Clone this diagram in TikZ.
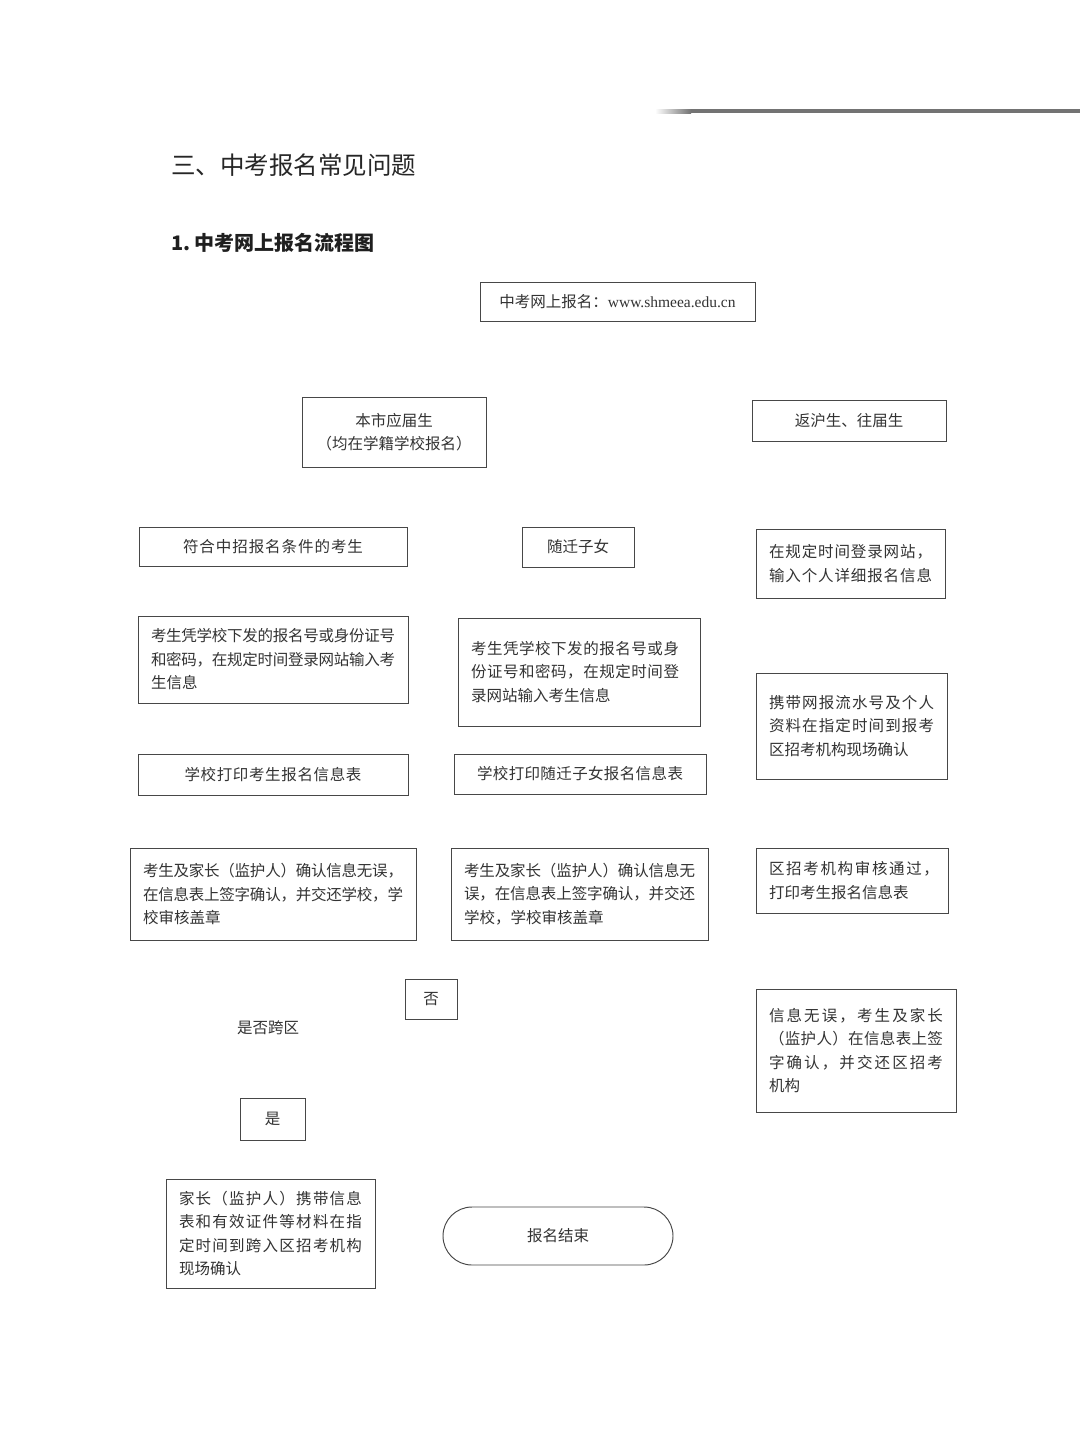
\documentclass[tikz,border=0pt]{standalone}
\usepackage{fontspec}
\setmainfont{Noto Sans CJK SC}
\newfontfamily\urlfont{Liberation Serif}
\def\jg{\hskip 0pt plus 1fil minus 2pt\relax}
\def\jloop#1{\ifx#1\relax\else#1\jg\expandafter\jloop\fi}
\newcommand\jl[2]{\makebox[#1][s]{\jloop#2\relax\unskip}}
\begin{document}
\begin{tikzpicture}[x=1pt,y=-1pt,
  box/.style={draw=black!72, line width=0.95pt, rectangle, inner sep=0pt,
    text=black!80, font=\fontsize{15.5}{23.5}\selectfont, align=center},
  para/.style={box, inner xsep=13pt, align=left, text width=#1},
  plain/.style={inner sep=0pt, text=black!80, font=\fontsize{15.5}{23.5}\selectfont}]
\fill[white] (0,0) rectangle (1080,1440);
\useasboundingbox (0,0) rectangle (1080,1440);
% header rule
\fill[black!55] (690,109) rectangle (1080,113);
\shade[left color=white, right color=black!55] (655,109) rectangle (691,113);
% titles
\node[anchor=west, inner sep=0pt, text=black!85, font=\fontsize{24.5}{28}\selectfont] (h1) at (171,165) {三、中考报名常见问题};
\node[anchor=west, inner sep=0pt, text=black!88, font=\bfseries\fontsize{20}{24}\selectfont] (h2) at (171,243) {1.~中考网上报名流程图};
% boxes
\node[box, minimum width=275pt, minimum height=39pt] (url) at (617.5,301.5) {中考网上报名：{\urlfont www.shmeea.edu.cn}};
\node[box, minimum width=184pt, minimum height=70pt] (local) at (394,432) {本市应届生\\（均在学籍学校报名）};
\node[box, minimum width=194pt, minimum height=41pt] (ret) at (849,420.5) {返沪生、往届生};
\node[box, minimum width=268pt, minimum height=39pt] (elig) at (273,546.5) {\jl{180pt}{符合中招报名条件的考生}};
\node[box, minimum width=112pt, minimum height=40pt] (mig) at (578,547) {随迁子女};
\node[para=163pt, minimum width=189pt, minimum height=69pt] (login) at (850.5,563.5)
  {\jl{163pt}{在规定时间登录网站，}\\\jl{163pt}{输入个人详细报名信息}};
\node[para=244pt, minimum width=270pt, minimum height=87pt] (inL) at (273,659.5)
  {\jl{244pt}{考生凭学校下发的报名号或身份证号}\\\jl{244pt}{和密码，在规定时间登录网站输入考}\\生信息};
\node[para=216pt, minimum width=242pt, minimum height=108pt] (inM) at (579,672)
  {\jl{208pt}{考生凭学校下发的报名号或身}\\\jl{208pt}{份证号和密码，在规定时间登}\\录网站输入考生信息};
\node[para=165pt, minimum width=191pt, minimum height=106pt] (carry) at (851.5,726)
  {\jl{165pt}{携带网报流水号及个人}\\\jl{165pt}{资料在指定时间到报考}\\区招考机构现场确认};
\node[box, minimum width=270pt, minimum height=41pt] (prL) at (273,774.5) {\jl{177pt}{学校打印考生报名信息表}};
\node[box, minimum width=252pt, minimum height=40pt] (prM) at (580,774) {\jl{206pt}{学校打印随迁子女报名信息表}};
\node[para=260pt, minimum width=286pt, minimum height=92pt] (cfL) at (273,894)
  {\jl{260pt}{考生及家长（监护人）确认信息无误，}\\\jl{260pt}{在信息表上签字确认，并交还学校，学}\\校审核盖章};
\node[para=231pt, minimum width=257pt, minimum height=92pt] (cfM) at (579.5,894)
  {\jl{231pt}{考生及家长（监护人）确认信息无}\\\jl{231pt}{误，在信息表上签字确认，并交还}\\学校，学校审核盖章};
\node[para=166pt, minimum width=192pt, minimum height=65pt] (audit) at (852,880.5)
  {\jl{170pt}{区招考机构审核通过，}\\打印考生报名信息表};
\node[box, minimum width=52pt, minimum height=40pt] (no) at (431,999) {否};
\node[plain] (cross) at (268,1028) {是否跨区};
\node[para=174pt, minimum width=200pt, minimum height=123pt] (sign) at (856,1050.5)
  {\jl{174pt}{信息无误，考生及家长}\\\jl{174pt}{（监护人）在信息表上签}\\\jl{174pt}{字确认，并交还区招考}\\机构};
\node[box, minimum width=65pt, minimum height=42pt] (yes) at (272.5,1119) {是};
\node[para=183pt, minimum width=209pt, minimum height=109pt] (parent) at (270.5,1233.5)
  {\jl{183pt}{家长（监护人）携带信息}\\\jl{183pt}{表和有效证件等材料在指}\\\jl{183pt}{定时间到跨入区招考机构}\\现场确认};
\node[box, rounded corners=29pt, minimum width=230pt, minimum height=58pt] (end) at (558,1236) {报名结束};
\end{tikzpicture}
\end{document}
